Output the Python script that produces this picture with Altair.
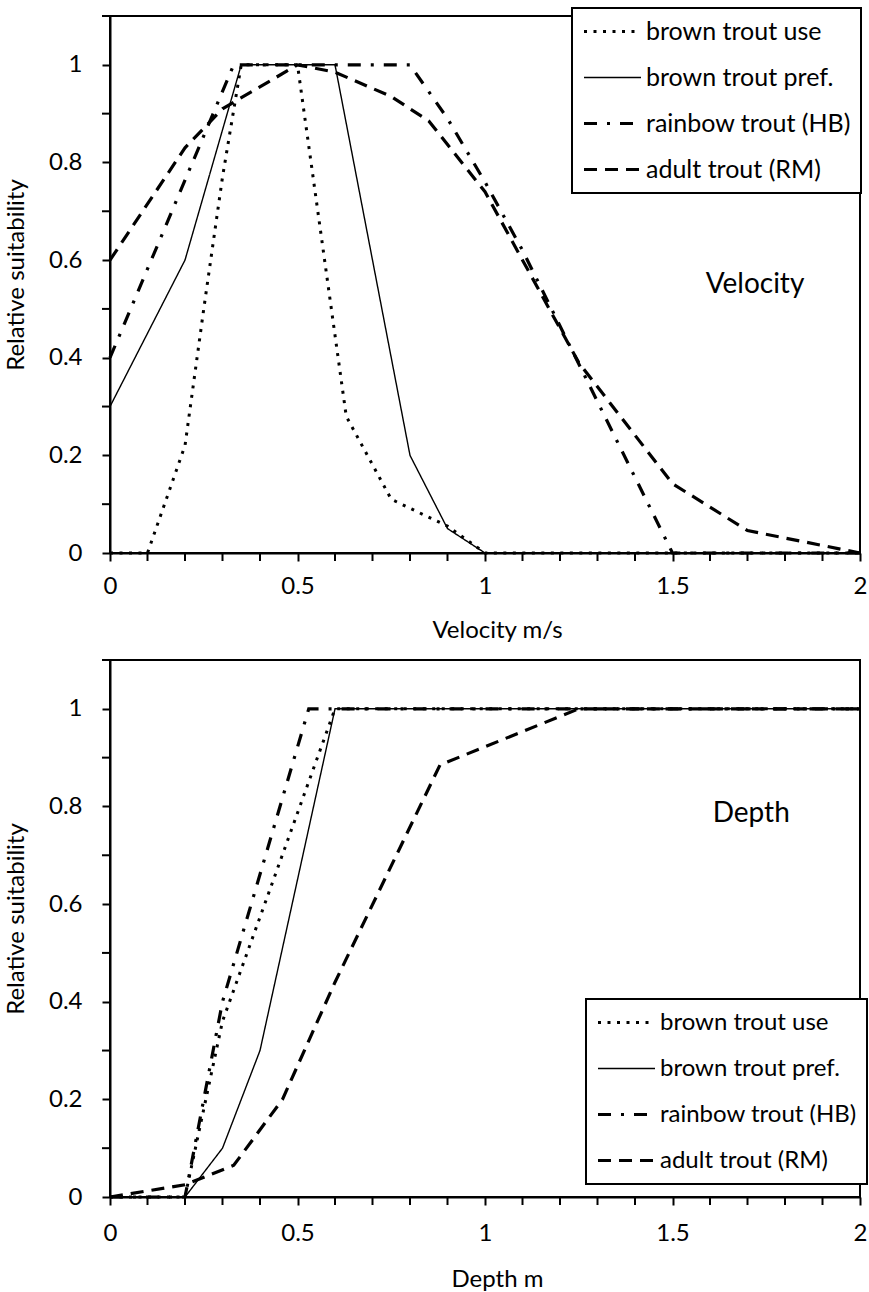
import altair as alt
import pandas as pd

# ---------------- data ----------------
SERIES = ["brown trout use", "brown trout pref.", "rainbow trout (HB)", "adult trout (RM)"]

# Velocity panel
vel_use_x = [0, 0.1, 0.2, 0.25, 0.3, 0.35, 0.5, 0.63, 0.75, 0.9, 1.0, 2.0]
vel_use_y = [0, 0, 0.22, 0.5, 0.77, 1, 1, 0.28, 0.11, 0.055, 0, 0]
vel_pref_x = [0, 0.2, 0.35, 0.6, 0.8, 0.9, 1.0, 2.0]
vel_pref_y = [0.3, 0.6, 1, 1, 0.2, 0.05, 0, 0]
vel_hb_x = [0, 0.33, 0.8, 0.9, 1.0, 1.1, 1.5, 2.0]
vel_hb_y = [0.4, 1, 1, 0.89, 0.76, 0.62, 0, 0]
vel_rm_x = [0, 0.2, 0.3, 0.5, 0.6, 0.75, 0.85, 1.0, 1.25, 1.5, 1.7, 2.0]
vel_rm_y = [0.6, 0.83, 0.91, 1, 0.985, 0.935, 0.885, 0.74, 0.39, 0.142, 0.046, 0]

# Depth panel
dep_use_x = [0, 0.2, 0.3, 0.6, 2.0]
dep_use_y = [0, 0, 0.36, 1, 1]
dep_pref_x = [0, 0.2, 0.3, 0.4, 0.6, 2.0]
dep_pref_y = [0, 0, 0.1, 0.3, 1, 1]
dep_hb_x = [0, 0.2, 0.3, 0.53, 2.0]
dep_hb_y = [0, 0, 0.4, 1, 1]
dep_rm_x = [0, 0.2, 0.33, 0.46, 0.6, 0.88, 1.25, 2.0]
dep_rm_y = [0, 0.025, 0.065, 0.2, 0.44, 0.885, 1, 1]

# tick values
X_LABELS = [0, 0.5, 1.0, 1.5, 2.0]
X_MINOR = [0.1, 0.2, 0.3, 0.4, 0.6, 0.7, 0.8, 0.9,
           1.1, 1.2, 1.3, 1.4, 1.6, 1.7, 1.8, 1.9]
Y_LABELS = [0, 0.2, 0.4, 0.6, 0.8, 1.0]
Y_MINOR = [0.1, 0.3, 0.5, 0.7, 0.9, 1.1]

notes_vel = {"x": [1.72], "y": [0.55], "t": ["Velocity"]}
notes_dep = {"x": [1.71], "y": [0.785], "t": ["Depth"]}

# ---------------- styles ----------------
DASHES = [[3, 6.5], [1, 0], [13, 10, 3, 10], [13, 8]]
WIDTHS = [3, 1.4, 3.2, 3.2]
FONT = "Lato"
W, H = 750, 537
TICK = 8


def long_table(xs_list, ys_list):
    rows = []
    for name, xs, ys in zip(SERIES, xs_list, ys_list):
        for i, (xv, yv) in enumerate(zip(xs, ys)):
            rows.append({"series": name, "x": xv, "y": yv, "order": i})
    return pd.DataFrame(rows)


vel_df = long_table([vel_use_x, vel_pref_x, vel_hb_x, vel_rm_x],
                    [vel_use_y, vel_pref_y, vel_hb_y, vel_rm_y])
dep_df = long_table([dep_use_x, dep_pref_x, dep_hb_x, dep_rm_x],
                    [dep_use_y, dep_pref_y, dep_hb_y, dep_rm_y])

XS = alt.Scale(domain=[0, 2], nice=False, zero=False)
YS = alt.Scale(domain=[0, 1.1], nice=False)


def panel(df, xtitle, notes, legend_x, legend_y, legend_font, label_pad, title_pad):
    legend = alt.Legend(
        title=None, orient="none", legendX=legend_x, legendY=legend_y,
        symbolType="stroke", symbolSize=3249, symbolStrokeColor="black",
        labelFont=FONT, labelFontSize=legend_font, labelColor="black", labelOffset=3,
        labelLimit=400, padding=10, rowPadding=19, clipHeight=27,
        strokeColor="black", fillColor="white",
    )
    xaxis = alt.Axis(
        values=X_LABELS, title=xtitle, format="~g",
        labelFlush=False, labelOverlap=False,
        labelPadding=label_pad, titlePadding=title_pad,
        titleX=W / 2 + 12,
    )
    yaxis = alt.Axis(
        values=Y_LABELS, title="Relative suitability", format="~g",
        labelOverlap=False, labelPadding=20, titlePadding=20,
        titleY=H / 2 - 10,
    )
    lines = alt.Chart(df).mark_line(color="black").encode(
        x=alt.X("x:Q", scale=XS, axis=xaxis),
        y=alt.Y("y:Q", scale=YS, axis=yaxis),
        strokeDash=alt.StrokeDash("series:N", sort=SERIES,
                                  scale=alt.Scale(domain=SERIES, range=DASHES),
                                  legend=legend),
        strokeWidth=alt.StrokeWidth("series:N", sort=SERIES,
                                    scale=alt.Scale(type="ordinal", domain=SERIES, range=WIDTHS),
                                    legend=legend),
        order="order:Q",
    )
    xminor = alt.Chart(pd.DataFrame({"v": X_MINOR})).mark_rule(
        color="black", strokeWidth=2
    ).encode(
        x=alt.X("v:Q", scale=XS, axis=xaxis),
        y=alt.value(H), y2=alt.value(H + TICK),
    )
    yminor = alt.Chart(pd.DataFrame({"v": Y_MINOR})).mark_rule(
        color="black", strokeWidth=2
    ).encode(
        y=alt.Y("v:Q", scale=YS, axis=yaxis),
        x=alt.value(0), x2=alt.value(-TICK),
    )
    text = alt.Chart(pd.DataFrame(notes)).mark_text(
        font=FONT, fontSize=28, color="black"
    ).encode(
        x=alt.X("x:Q", scale=XS, axis=xaxis),
        y=alt.Y("y:Q", scale=YS, axis=yaxis),
        text="t:N",
    )
    return alt.layer(lines, xminor, yminor, text).properties(width=W, height=H)


top = panel(vel_df, "Velocity m/s", notes_vel, 462, -8, 25, 13, 20)
bottom = panel(dep_df, "Depth m", notes_dep, 476, 339, 24, 16, 22)

chart = alt.vconcat(top, bottom, spacing=15).resolve_legend(
    strokeDash="independent", strokeWidth="independent"
).properties(
    padding={"left": 3, "top": 6, "right": 0, "bottom": 0}
).configure_view(
    stroke="black", strokeWidth=2
).configure_axis(
    labelFont=FONT, labelFontSize=24, labelColor="black",
    titleFont=FONT, titleFontSize=24, titleColor="black", titleFontWeight="normal",
    domainColor="black", domainWidth=2, tickColor="black", tickWidth=2, tickSize=TICK,
    grid=False,
).configure_legend(
    strokeWidth=2
)

chart.save("out.html", embed_options={"renderer": "svg", "actions": False})
